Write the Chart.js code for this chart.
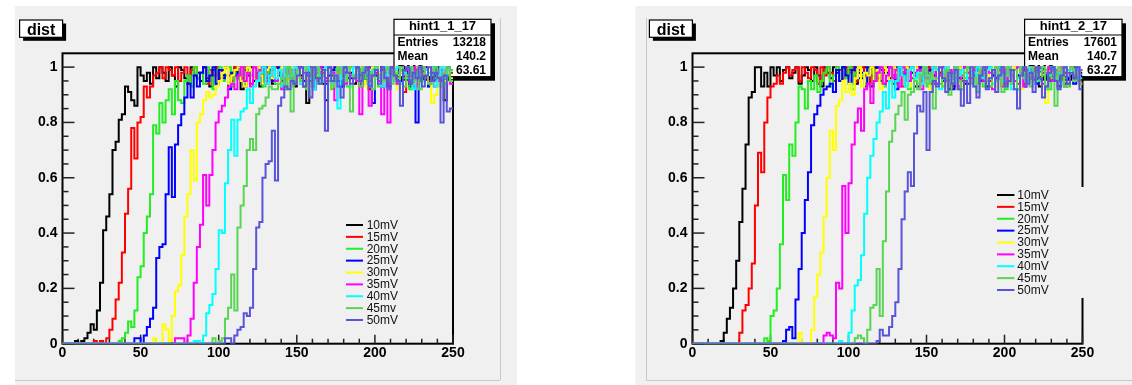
<!DOCTYPE html>
<html>
<head>
<meta charset="utf-8">
<script src="https://cdn.jsdelivr.net/npm/chart.js@4.4.1/dist/chart.umd.min.js"></script>
<style>
html,body{margin:0;padding:0;background:#ffffff;}
#wrap{position:relative;width:1132px;height:385px;overflow:hidden;}
canvas{position:absolute;top:0;}
</style>
</head>
<body>
<div id="wrap">
<canvas id="c1" width="566" height="385" style="left:0px"></canvas>
<canvas id="c2" width="566" height="385" style="left:566px"></canvas>
</div>
<script>
// ---------------- data ----------------
const SERIES = ['10mV','15mV','20mV','25mV','30mV','35mV','40mV','45mv','50mV'];
const X_TICKS = [0, 50, 100, 150, 200, 250];
const Y_TICKS = [0, 0.2, 0.4, 0.6, 0.8, 1];
const BIN = 2;           // bin width of the histograms
const X_MAX = 250;

// panel 1 (hint1_1_17): first bin edge of each series, then bin contents
const P1_START = [8, 20, 36, 46, 58, 72, 84, 96, 104];
const p1_10mV = [0.01,0,0.01,0.02,0.04,0.07,0.05,0.12,0.22,0.41,0.46,0.54,0.70,0.73,0.81,0.83,0.93,0.91,0.88,0.86,1,0.97,0.95,0.98,0.94,1,
  0.96,1,0.98,0.95,1,0.97,0.93,1,0.99,0.96,0.94,1,0.97,0.98,0.95,1,0.96,0.93,0.99,1,
  0.95,0.97,1,0.94,0.98,1,0.96,0.92,0.99,0.97,1,0.95,0.98,0.93,1,0.96,0.99,0.94,1,0.97,
  0.95,1,0.98,0.96,0.93,1,0.97,0.99,0.87,0.95,1,0.96,0.98,0.94,0.88,1,0.97,0.95,0.99,0.93,
  1,0.96,0.98,0.94,1,0.97,0.95,0.99,0.92,1,0.96,0.98,0.93,1,0.97,0.95,1,0.94,0.98,0.96,
  1,0.93,0.97,0.99,0.95,1,0.96,0.94,0.98,1,0.95,0.97,0.88,0.97,0.95];
const p1_15mV = [0.01,0,0.01,0,0.02,0.05,0.09,0.16,0.22,0.33,0.47,0.56,0.78,0.67,0.80,0.82,0.93,0.89,0.93,0.97,
  0.98,1,0.96,1,0.99,0.97,1,0.95,0.98,1,0.97,0.99,1,0.96,0.98,1,0.94,0.99,0.97,1,
  0.96,0.99,1,0.97,0.95,1,0.98,0.96,1,0.99,0.94,1,0.97,0.98,1,0.95,0.99,0.96,1,0.98,
  0.97,1,0.95,0.99,0.98,1,0.96,0.93,1,0.97,0.99,0.95,1,0.98,0.96,1,0.94,0.99,0.97,1,
  0.95,0.98,1,0.96,0.99,0.93,1,0.97,0.95,1,0.98,0.96,0.99,1,0.94,0.97,1,0.95,0.98,0.91,
  0.99,0.96,1,0.94,0.98,0.97,1,0.95,0.99,0.93,1,0.97,0.96,0.99,0.98];
const p1_20mV = [0.01,0.02,0.04,0.08,0.06,0.12,0.24,0.28,0.40,0.46,0.54,0.79,0.76,0.87,0.80,0.88,0.92,0.83,0.95,0.88,0.87,0.95,0.97,
  0.93,1,0.96,0.98,0.94,1,0.97,0.92,0.99,1,0.95,0.97,1,0.93,0.98,0.96,1,0.94,0.99,0.97,
  1,0.95,0.98,0.93,1,0.96,0.99,0.94,1,0.97,0.92,0.98,1,0.95,0.97,1,0.93,0.99,0.96,1,
  0.94,0.98,0.97,1,0.95,0.92,0.99,1,0.96,0.98,0.93,1,0.97,0.95,1,0.98,0.94,0.96,1,0.97,
  0.93,1,0.98,0.95,0.97,1,0.94,0.99,0.96,1,0.92,0.98,0.97,1,0.95,0.99,0.93,1,0.96,0.98,
  1,0.94,0.97,0.99];
const p1_25mV = [0.02,0.02,0,0.03,0.06,0.09,0.13,0.31,0.35,0.36,0.54,0.71,0.53,0.72,0.79,0.83,0.89,0.94,0.89,0.97,
  0.93,0.98,1,0.95,0.97,1,0.94,0.99,0.96,1,0.92,0.98,0.97,1,0.95,0.93,1,0.98,0.96,1,
  0.97,0.94,1,0.99,0.95,0.98,1,0.93,0.97,1,0.96,0.94,0.99,1,0.95,0.97,1,0.92,0.98,0.96,
  1,0.94,0.97,0.99,1,0.95,0.93,0.98,1,0.96,0.97,1,0.94,0.99,0.96,1,0.87,0.97,0.95,1,
  0.98,0.93,1,0.96,0.99,0.95,1,0.97,0.94,1,0.80,0.98,0.96,1,0.93,0.99,0.97,1,0.95,0.98,
  1,0.96];
const p1_30mV = [0.02,0,0,0.07,0.05,0.01,0.10,0.19,0.21,0.32,0.46,0.54,0.70,0.59,0.80,0.83,0.88,0.91,0.89,0.90,0.93,0.95,
  0.98,1,0.94,0.97,0.99,1,0.95,0.93,1,0.98,0.96,1,0.97,0.94,0.99,1,0.96,0.98,0.93,1,
  0.97,0.95,1,0.99,0.94,0.98,1,0.96,0.92,1,0.97,0.99,0.95,1,0.98,0.93,0.97,1,0.96,0.99,
  1,0.94,0.97,0.98,1,0.95,0.93,0.99,1,0.96,0.98,0.94,1,0.97,0.95,1,0.92,0.98,0.99,1,
  0.96,0.94,1,0.98,0.95,0.99,1,0.87,0.90,0.97,1,0.95,0.98,0.96];
const p1_35mV = [0.02,0.02,0.02,0,0.03,0.09,0.22,0.35,0.43,0.61,0.50,0.61,0.70,0.80,0.84,0.86,0.89,0.93,0.94,0.92,
  0.97,1,0.95,0.98,0.93,1,0.96,0.99,1,0.94,0.97,1,0.95,0.98,0.92,1,0.97,0.96,0.99,1,
  0.94,0.98,1,0.96,0.93,0.99,1,0.97,0.95,1,0.98,0.88,0.96,1,0.94,0.99,0.97,1,0.95,0.83,
  0.98,1,0.86,0.97,1,0.95,0.83,0.99,0.80,1,0.96,0.94,1,0.97,0.99,0.95,1,0.93,0.98,1,
  0.96,0.94,1,0.98,0.95,0.99,0.97,1,0.94];
const p1_40mV = [0.01,0.01,0,0.03,0.11,0.14,0.18,0.27,0.41,0.40,0.58,0.70,0.81,0.68,0.81,0.84,0.85,0.92,0.87,0.93,0.95,
  0.98,1,0.94,0.97,1,0.96,0.99,0.93,1,0.97,0.95,1,0.98,0.94,0.99,1,0.96,0.92,1,0.97,
  0.95,1,0.98,0.94,0.97,0.85,1,0.96,0.99,0.93,1,0.97,0.95,1,0.98,0.94,0.99,1,0.96,0.93,
  1,0.97,0.95,0.99,1,0.94,0.98,0.96,1,0.92,0.97,1,0.95,0.99,0.98,1,0.93,0.97,1,0.96,
  0.99,0.95];
const p1_45mv = [0.02,0,0.01,0.02,0.09,0.13,0.25,0.12,0.42,0.50,0.57,0.70,0.74,0.70,0.83,0.85,0.86,0.89,0.93,0.92,0.92,0.94,0.96,
  0.93,1,0.84,0.97,0.99,0.95,1,0.92,0.98,0.96,1,0.94,0.97,0.99,1,0.93,0.96,1,0.98,0.95,
  1,0.84,0.97,0.99,0.93,1,0.96,0.98,0.92,1,0.97,0.95,0.99,1,0.94,0.98,0.96,1,0.93,0.97,
  1,0.95,0.98,0.92,1,0.97,0.94,0.99,1,0.96,0.93,0.98,1,0.95];
const p1_50mV = [0.02,0.02,0,0.03,0.05,0.06,0.11,0.10,0.13,0.27,0.42,0.44,0.60,0.65,0.66,0.77,0.59,0.86,0.89,0.93,0.92,0.95,0.94,
  0.97,1,0.93,0.98,0.89,1,0.96,0.94,0.99,0.77,1,0.95,0.97,0.93,0.89,1,0.98,0.94,0.96,1,
  0.95,0.98,1,0.93,0.97,0.99,0.94,1,0.96,0.92,1,0.97,0.95,0.86,0.99,1,0.94,0.98,0.96,1,
  0.93,0.97,1,0.95,0.98,0.96,0.80,0.97,0.84,0.85];

// panel 2 (hint1_2_17)
const P2_START = [18, 30, 46, 58, 68, 84, 94, 104, 118];
const p2_10mV = [0.01,0.04,0.09,0.13,0.20,0.30,0.44,0.56,0.72,0.89,0.91,1,1,0.93,0.98,0.93,1,
  0.97,1,0.95,0.99,1,0.96,0.98,1,0.94,0.97,1,0.99,0.95,1,0.97,0.93,1,0.98,0.96,1,
  0.98,0.95,1,0.97,0.99,1,0.94,0.98,0.96,1,0.97,0.93,1,0.99,0.95,0.98,1,0.96,0.94,1,
  0.97,0.99,1,0.95,0.98,0.93,1,0.96,0.99,1,0.94,0.97,1,0.98,0.95,1,0.92,0.97,0.99,1,
  0.96,0.94,1,0.98,0.97,1,0.95,0.99,0.93,1,0.97,0.96,1,0.98,0.94,1,0.99,0.95,0.97,1,
  0.94,0.98,1,0.96,0.99,0.93,1,0.97,0.95,1,0.98,0.96,1,0.94,0.99,0.97,1,0.95,0.98];
const p2_15mV = [0.04,0.12,0.14,0.20,0.29,0.50,0.69,0.62,0.80,0.89,0.93,0.94,0.97,0.94,0.98,
  1,0.97,0.99,1,0.95,1,0.98,0.96,1,0.99,0.94,1,0.97,1,0.98,0.95,1,0.99,0.96,1,
  0.98,1,0.95,0.99,1,0.97,0.94,1,0.98,0.96,1,0.99,0.95,1,0.97,0.98,1,0.93,0.99,1,
  0.96,0.98,1,0.95,0.99,1,0.97,0.94,1,0.98,0.96,1,0.99,0.93,1,0.97,0.95,1,0.98,0.96,
  1,0.94,0.99,0.97,1,0.95,0.98,1,0.96,0.93,1,0.99,0.97,1,0.94,0.98,0.96,1,0.95,0.99,
  1,0.96,0.98,0.93,1,0.97,0.99,0.95,1,0.98,0.94,1,0.97,0.96,0.99];
const p2_20mV = [0.02,0.01,0.10,0.12,0.20,0.36,0.61,0.52,0.72,0.68,0.80,0.93,0.92,0.85,0.95,0.92,0.97,0.91,0.95,
  0.98,1,0.93,0.97,1,0.95,0.99,0.96,1,0.92,0.98,1,0.97,0.94,1,0.99,0.95,0.97,1,0.93,
  0.98,1,0.96,0.94,0.99,1,0.97,0.92,1,0.95,0.98,0.96,1,0.93,0.97,1,0.99,0.94,0.98,1,
  0.95,0.97,1,0.92,0.99,0.96,1,0.94,0.98,1,0.97,0.93,1,0.96,0.99,0.95,1,0.98,0.92,1,
  0.97,0.95,1,0.99,0.93,0.98,1,0.96,0.94,1,0.97,0.99,0.92,1,0.95,0.98,1,0.96,0.93,1,
  0.97,0.95,0.99];
const p2_25mV = [0.01,0.05,0.06,0.02,0.16,0.27,0.40,0.52,0.62,0.79,0.83,0.86,0.90,0.92,0.93,0.94,0.91,0.99,0.95,
  1,0.97,0.94,0.99,1,0.96,0.98,0.93,1,0.97,0.95,1,0.99,0.94,0.98,1,0.96,0.92,1,0.97,
  0.99,0.95,1,0.97,0.93,1,0.98,0.96,0.99,1,0.94,0.97,1,0.95,0.98,0.92,1,0.96,0.99,1,
  0.94,0.98,0.97,1,0.95,0.99,1,0.93,0.97,0.96,1,0.98,0.94,1,0.99,0.95,0.97,1,0.93,0.98,
  1,0.96,0.94,0.99,1,0.97,0.95,1,0.98,0.93,0.97,1,0.96,0.99,0.94,1,0.97];
const p2_30mV = [0.04,0,0,0,0.05,0.17,0.25,0.33,0.46,0.60,0.77,0.70,0.86,0.88,0.95,0.91,0.94,0.90,
  0.96,1,0.93,0.98,0.97,1,0.95,0.99,0.92,1,0.97,0.94,1,0.98,0.96,0.99,1,0.93,0.97,1,
  0.95,0.98,1,0.96,0.92,0.99,1,0.97,0.94,1,0.98,0.95,0.97,1,0.93,0.99,0.96,1,0.94,0.98,
  1,0.97,0.95,0.99,1,0.93,0.98,0.96,1,0.94,0.97,1,0.99,0.92,0.98,1,0.95,0.97,1,0.96,
  0.94,0.87,1,0.98,0.95,0.99,1,0.93,0.97,1,0.96,0.98,0.94];
const p2_35mV = [0.03,0.04,0.03,0.02,0.22,0.20,0.57,0.40,0.58,0.72,0.80,0.85,0.77,0.92,0.94,0.87,0.95,
  0.98,1,0.94,0.97,1,0.96,0.99,0.93,1,0.98,0.95,1,0.97,0.99,0.92,1,0.96,0.98,1,0.94,
  0.97,1,0.95,0.99,0.98,1,0.93,0.97,1,0.96,0.94,0.99,1,0.97,0.95,1,0.98,0.92,1,0.96,
  0.99,0.94,1,0.97,0.95,1,0.98,0.93,0.99,1,0.96,0.97,1,0.94,0.98,1,0.95,0.99,0.97,1,
  0.93,0.98,1,0.96,0.95,0.99];
const p2_40mV = [0.01,0,0,0.04,0.12,0.21,0.23,0.32,0.47,0.60,0.68,0.74,0.80,0.84,0.91,0.85,0.95,0.89,0.95,
  1,0.97,0.93,0.99,1,0.96,0.98,0.94,1,0.97,0.95,1,0.99,0.92,0.98,1,0.96,0.94,1,0.97,
  0.99,0.95,1,0.98,0.93,1,0.97,0.96,0.99,1,0.94,0.98,1,0.95,0.97,1,0.92,0.99,0.96,1,
  0.97,0.94,1,0.98,0.95,0.99,1,0.93,0.97,1,0.96,0.98,0.94,1,0.97,0.99,0.95,1,0.96];
const p2_45mv = [0.02,0.03,0.02,0,0.05,0.13,0.14,0.27,0.10,0.37,0.55,0.73,0.77,0.83,0.86,0.91,0.81,0.90,0.91,0.95,
  0.92,0.97,1,0.94,0.98,0.85,0.96,1,0.93,0.99,0.90,0.97,1,0.95,0.92,0.98,1,0.94,0.96,0.91,
  0.99,1,0.95,0.93,0.98,1,0.96,0.91,0.97,1,0.94,0.99,0.92,1,0.96,0.98,0.93,1,0.97,0.95,
  1,0.92,0.98,0.96,0.86,1,0.97,0.93,0.99,1,0.95,0.98,0.94];
const p2_50mV = [0.01,0.05,0.03,0.03,0.06,0.10,0.15,0.27,0.45,0.55,0.62,0.57,0.76,0.86,0.84,0.91,0.70,0.91,0.95,
  0.93,1,0.96,0.91,0.98,0.94,0.99,0.92,0.86,0.95,0.87,1,0.93,0.89,0.97,1,0.92,0.96,0.99,0.91,
  0.97,1,0.93,0.95,0.99,0.92,0.85,0.97,1,0.94,0.98,0.91,1,0.96,0.89,0.93,0.98,1,0.95,0.92,
  0.97,1,0.94,0.98,0.96,1,0.92];

const P1_VALUES = [p1_10mV, p1_15mV, p1_20mV, p1_25mV, p1_30mV, p1_35mV, p1_40mV, p1_45mv, p1_50mV];
const P2_VALUES = [p2_10mV, p2_15mV, p2_20mV, p2_25mV, p2_30mV, p2_35mV, p2_40mV, p2_45mv, p2_50mV];

const STATS1 = {name: 'hint1_1_17', entries: '13218', mean: '140.2', rms: '63.61'};
const STATS2 = {name: 'hint1_2_17', entries: '17601', mean: '140.7', rms: '63.27'};
const TITLE = 'dist';

// ---------------- style ----------------
const COLORS = ['#000000','#ff0000','#22ee22','#0000ff','#ffff00','#ff00ff','#00ffff','#59d454','#5954d9'];
const FONT = "'Liberation Sans', Arial, Helvetica, sans-serif";
const PAD_BG = '#f0f0f0';

// canvas-local layout of each panel
const LAYOUT1 = {
  pad: {x: 15, y: 6, w: 502, h: 379}, bevel: {vx: 500, hy: 380, x0: 15, x1: 500, y0: 18},
  padding: {left: 0, right: 113, top: 53.3, bottom: 0},
  titleBox: {x: 19.6, y: 20, w: 43, h: 17.3},
  statsBox: {x: 394, y: 19.3, w: 97, h: 57.4},
  legend: {lx0: 346, lx1: 363, tx: 366.7, y0: 225, dy: 11.875, box: {x: 339, y: 217, w: 100, h: 111}}
};
const LAYOUT2 = {
  pad: {x: 69.5, y: 6, w: 497, h: 379}, bevel: {vx: 80, hy: 380, x0: 80, x1: 566, y0: 18},
  padding: {left: 64, right: 49.5, top: 53.3, bottom: 0},
  titleBox: {x: 83.4, y: 20, w: 43, h: 17.3},
  statsBox: {x: 458.6, y: 19.3, w: 97.4, h: 57.4},
  legend: {lx0: 431, lx1: 448.4, tx: 451.3, y0: 195, dy: 11.875, box: {x: 424, y: 187, w: 100, h: 111}}
};

function makeDatasets(starts, values) {
  return SERIES.map((name, i) => {
    const vals = values[i];
    const pts = [{x: 0, y: 0}];
    vals.forEach((v, k) => pts.push({x: starts[i] + k * BIN, y: v}));
    pts.push({x: X_MAX, y: vals[vals.length - 1]});
    return {
      label: name,
      data: pts,
      borderColor: COLORS[i],
      backgroundColor: COLORS[i],
      borderWidth: 2,
      pointRadius: 0,
      stepped: true,
      fill: false,
      order: SERIES.length - 1 - i
    };
  });
}

function line(ctx, x0, y0, x1, y1) {
  ctx.beginPath(); ctx.moveTo(x0, y0); ctx.lineTo(x1, y1); ctx.stroke();
}

function shadowBox(ctx, b, off) {
  ctx.fillStyle = '#000';
  ctx.fillRect(b.x + off, b.y + off, b.w, b.h);
  ctx.fillStyle = '#ffffff';
  ctx.fillRect(b.x, b.y, b.w, b.h);
  ctx.strokeStyle = '#000';
  ctx.lineWidth = 1.2;
  ctx.strokeRect(b.x, b.y, b.w, b.h);
}

function makeDecor(L, stats) {
  return {
    id: 'decor',
    beforeDraw(chart) {
      const ctx = chart.ctx;
      ctx.save();
      ctx.fillStyle = '#ffffff';
      ctx.fillRect(0, 0, chart.width, chart.height);
      ctx.fillStyle = PAD_BG;
      ctx.fillRect(L.pad.x, L.pad.y, L.pad.w, L.pad.h);
      ctx.strokeStyle = '#c8c8c8';
      ctx.lineWidth = 1;
      line(ctx, L.bevel.vx + 0.5, L.bevel.y0, L.bevel.vx + 0.5, L.bevel.hy);
      line(ctx, L.bevel.x0, L.bevel.hy + 0.5, L.bevel.x1, L.bevel.hy + 0.5);
      ctx.restore();
    },
    beforeDatasetsDraw(chart) {
      const ctx = chart.ctx;
      const {left, right, top, bottom} = chart.chartArea;
      const xs = chart.scales.x, ys = chart.scales.y;
      ctx.save();
      // frame
      ctx.strokeStyle = '#000';
      ctx.lineWidth = 2;
      ctx.strokeRect(left, top, right - left, bottom - top);
      // ticks (inside the frame)
      ctx.lineWidth = 1.5;
      ctx.strokeStyle = '#222';
      for (let v = 0; v <= X_MAX; v += 10) {
        const px = xs.getPixelForValue(v);
        const len = X_TICKS.includes(v) ? 9 : 5;
        line(ctx, px, bottom, px, bottom - len);
      }
      for (let k = 0; k <= 20; k++) {
        const v = k * 0.05;
        const py = ys.getPixelForValue(v);
        const len = (k % 4 === 0) ? 12 : 6;
        line(ctx, left, py, left + len, py);
      }
      // legend background (covers frame where it overlaps)
      ctx.fillStyle = PAD_BG;
      const lb = L.legend.box;
      ctx.fillRect(lb.x, lb.y, lb.w, lb.h);
      // title box
      const tb = L.titleBox;
      shadowBox(ctx, tb, 3.5);
      ctx.fillStyle = '#000';
      ctx.font = 'bold 16px ' + FONT;
      ctx.textAlign = 'center';
      ctx.textBaseline = 'alphabetic';
      ctx.fillText(TITLE, tb.x + tb.w / 2, tb.y + 14.5);
      // stats box
      const sb = L.statsBox;
      shadowBox(ctx, sb, 4);
      ctx.lineWidth = 1;
      line(ctx, sb.x, sb.y + 15.7, sb.x + sb.w, sb.y + 15.7);
      ctx.fillStyle = '#000';
      ctx.font = 'bold 13px ' + FONT;
      ctx.textAlign = 'center';
      ctx.fillText(stats.name, sb.x + sb.w / 2, sb.y + 10.2);
      ctx.font = 'bold 12px ' + FONT;
      const rows = [['Entries', stats.entries], ['Mean', stats.mean], ['RMS', stats.rms]];
      rows.forEach((r, i) => {
        const y = sb.y + 26.4 + i * 13.9;
        ctx.textAlign = 'left';
        ctx.fillText(r[0], sb.x + 3.5, y);
        ctx.textAlign = 'right';
        ctx.fillText(r[1], sb.x + sb.w - 5, y);
      });
      ctx.restore();
    },
    afterDatasetsDraw(chart) {
      const ctx = chart.ctx;
      const lg = L.legend;
      ctx.save();
      ctx.font = '12px ' + FONT;
      ctx.textAlign = 'left';
      ctx.textBaseline = 'middle';
      chart.data.datasets.forEach((ds, i) => {
        const y = lg.y0 + i * lg.dy;
        ctx.strokeStyle = ds.borderColor;
        ctx.lineWidth = 2;
        line(ctx, lg.lx0, y, lg.lx1, y);
        ctx.fillStyle = '#111';
        ctx.fillText(ds.label, lg.tx, y + 0.5);
      });
      ctx.restore();
    }
  };
}

function makeChart(id, starts, values, L, stats) {
  return new Chart(document.getElementById(id), {
    type: 'line',
    data: {datasets: makeDatasets(starts, values)},
    options: {
      responsive: false,
      maintainAspectRatio: false,
      animation: false,
      devicePixelRatio: 1,
      events: [],
      layout: {padding: L.padding},
      plugins: {legend: {display: false}, tooltip: {enabled: false}, title: {display: false}},
      scales: {
        x: {
          type: 'linear', min: 0, max: X_MAX,
          afterBuildTicks: s => { s.ticks = X_TICKS.map(v => ({value: v})); },
          afterFit: s => { s.height = 41.3; },
          grid: {display: false, drawTicks: false},
          border: {display: false},
          ticks: {color: '#000', padding: 1, maxRotation: 0, autoSkip: false,
                  font: {family: FONT, size: 14, weight: 'bold'}, callback: v => String(v)}
        },
        y: {
          type: 'linear', min: 0, max: 1.05,
          afterBuildTicks: s => { s.ticks = Y_TICKS.map(v => ({value: v})); },
          afterFit: s => { s.width = 62.5; },
          grid: {display: false, drawTicks: false},
          border: {display: false},
          ticks: {color: '#000', padding: 5,
                  font: {family: FONT, size: 14, weight: 'bold'}, callback: v => String(v)}
        }
      }
    },
    plugins: [makeDecor(L, stats)]
  });
}

makeChart('c1', P1_START, P1_VALUES, LAYOUT1, STATS1);
makeChart('c2', P2_START, P2_VALUES, LAYOUT2, STATS2);
</script>
</body>
</html>
